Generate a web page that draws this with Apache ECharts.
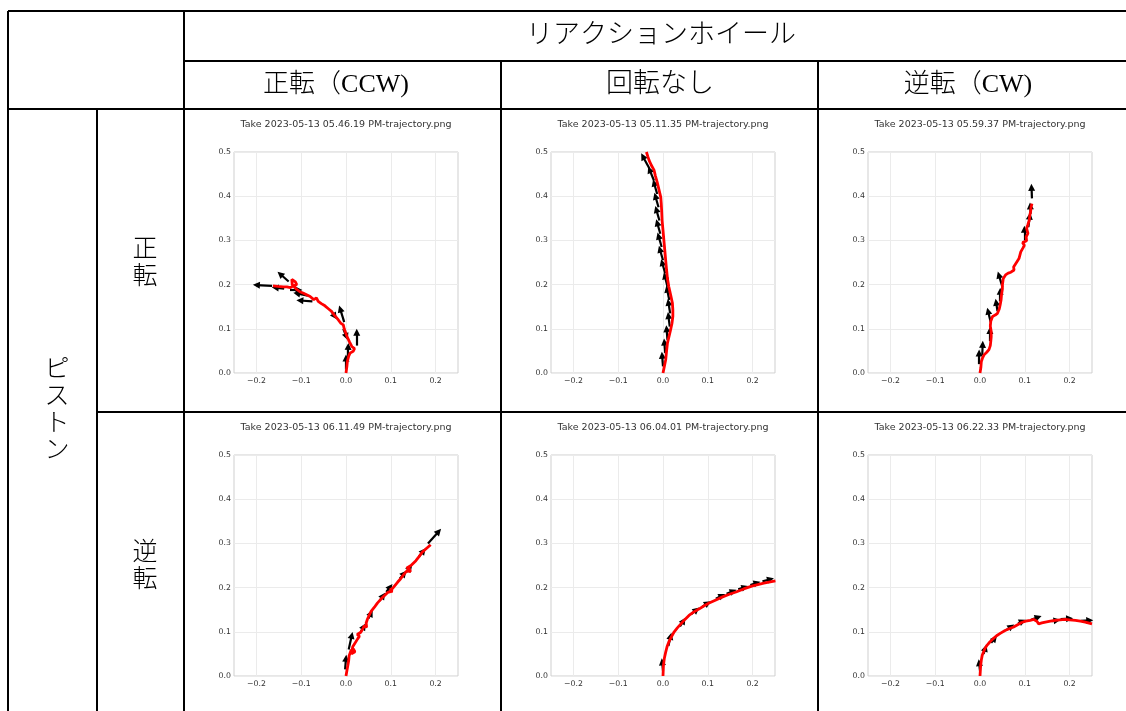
<!DOCTYPE html>
<html><head><meta charset="utf-8">
<script src="https://cdn.jsdelivr.net/npm/echarts@6/dist/echarts.min.js"></script>
<style>html,body{margin:0;padding:0;background:#fff}#c{width:1126px;height:711px}</style>
</head><body><div id="c"></div>
<script>
// ---- table texts ----
const headerTop = 'リアクションホイール';
const colHeaders = ['正転（CCW)', '回転なし', '逆転（CW)'];
const rowGroup = 'ピストン';
const rowHeaders = ['正転', '逆転'];
const plotTitles = [
  'Take 2023-05-13 05.46.19 PM-trajectory.png',
  'Take 2023-05-13 05.11.35 PM-trajectory.png',
  'Take 2023-05-13 05.59.37 PM-trajectory.png',
  'Take 2023-05-13 06.11.49 PM-trajectory.png',
  'Take 2023-05-13 06.04.01 PM-trajectory.png',
  'Take 2023-05-13 06.22.33 PM-trajectory.png'
];
const xTicks = [-0.2, -0.1, 0.0, 0.1, 0.2];
const yTicks = [0.0, 0.1, 0.2, 0.3, 0.4, 0.5];

// ---- trajectories [x, y] ----
const traj1 = [[0,0],[0.002,0.015],[0.003,0.026],[0.006,0.038],[0.009,0.045],[0.016,0.049],[0.019,0.055],[0.013,0.06],[0.008,0.07],[0.002,0.083],[-0.004,0.1],[-0.006,0.109],[-0.012,0.113],[-0.017,0.12],[-0.025,0.13],[-0.032,0.139],[-0.04,0.146],[-0.047,0.152],[-0.055,0.157],[-0.062,0.162],[-0.066,0.17],[-0.072,0.166],[-0.069,0.169],[-0.08,0.173],[-0.088,0.177],[-0.096,0.181],[-0.103,0.184],[-0.11,0.189],[-0.114,0.192],[-0.12,0.2],[-0.121,0.212],[-0.113,0.206],[-0.11,0.2],[-0.118,0.197],[-0.124,0.193],[-0.132,0.195],[-0.14,0.195],[-0.152,0.196],[-0.163,0.197]];
const traj2 = [[0,0],[0.003,0.015],[0.006,0.03],[0.008,0.05],[0.01,0.068],[0.014,0.085],[0.017,0.098],[0.02,0.112],[0.022,0.128],[0.022,0.143],[0.021,0.158],[0.017,0.177],[0.013,0.195],[0.01,0.213],[0.008,0.233],[0.006,0.255],[0.004,0.278],[0.002,0.3],[0,0.323],[-0.002,0.345],[-0.003,0.368],[-0.004,0.385],[-0.005,0.398],[-0.009,0.415],[-0.013,0.432],[-0.017,0.446],[-0.02,0.459],[-0.026,0.47],[-0.031,0.481],[-0.034,0.49],[-0.037,0.5]];
const traj3 = [[0,0],[0.002,0.013],[0.003,0.026],[0.006,0.035],[0.009,0.041],[0.015,0.047],[0.02,0.053],[0.023,0.062],[0.024,0.071],[0.025,0.082],[0.025,0.094],[0.023,0.106],[0.024,0.117],[0.028,0.128],[0.034,0.131],[0.039,0.135],[0.043,0.145],[0.045,0.154],[0.047,0.165],[0.048,0.177],[0.05,0.19],[0.05,0.199],[0.052,0.214],[0.057,0.222],[0.063,0.226],[0.069,0.228],[0.076,0.233],[0.075,0.24],[0.08,0.248],[0.083,0.244],[0.087,0.259],[0.09,0.262],[0.091,0.274],[0.095,0.271],[0.096,0.283],[0.099,0.289],[0.095,0.295],[0.104,0.299],[0.106,0.301],[0.103,0.308],[0.107,0.316],[0.104,0.327],[0.107,0.336],[0.11,0.346],[0.111,0.356],[0.113,0.365],[0.114,0.375],[0.116,0.383]];
const traj4 = [[0,0],[0.002,0.012],[0.004,0.023],[0.006,0.035],[0.007,0.046],[0.011,0.057],[0.016,0.062],[0.02,0.055],[0.012,0.05],[0.015,0.066],[0.019,0.069],[0.026,0.084],[0.03,0.09],[0.025,0.094],[0.033,0.099],[0.037,0.106],[0.041,0.114],[0.046,0.11],[0.05,0.112],[0.045,0.12],[0.048,0.129],[0.052,0.138],[0.056,0.146],[0.063,0.155],[0.07,0.165],[0.078,0.174],[0.086,0.182],[0.093,0.189],[0.104,0.192],[0.098,0.195],[0.104,0.198],[0.115,0.212],[0.122,0.22],[0.13,0.231],[0.136,0.238],[0.144,0.236],[0.141,0.244],[0.135,0.244],[0.145,0.25],[0.156,0.261],[0.163,0.27],[0.17,0.28],[0.18,0.289],[0.189,0.297]];
const traj5 = [[0,0],[0.001,0.024],[0.003,0.04],[0.006,0.054],[0.009,0.066],[0.013,0.077],[0.019,0.089],[0.025,0.1],[0.032,0.109],[0.04,0.118],[0.049,0.128],[0.058,0.137],[0.069,0.145],[0.081,0.152],[0.092,0.159],[0.103,0.165],[0.118,0.172],[0.133,0.179],[0.148,0.185],[0.163,0.19],[0.18,0.197],[0.2,0.204],[0.225,0.21],[0.251,0.215]];
const traj6 = [[0,0],[0.0015,0.024],[0.003,0.036],[0.005,0.047],[0.008,0.055],[0.011,0.062],[0.016,0.07],[0.022,0.077],[0.029,0.084],[0.037,0.091],[0.046,0.097],[0.056,0.103],[0.065,0.107],[0.075,0.111],[0.084,0.116],[0.093,0.121],[0.102,0.124],[0.112,0.126],[0.12,0.128],[0.123,0.13],[0.127,0.124],[0.131,0.118],[0.138,0.12],[0.146,0.122],[0.157,0.124],[0.168,0.126],[0.179,0.127],[0.19,0.128],[0.2,0.127],[0.213,0.126],[0.224,0.124],[0.235,0.122],[0.25,0.118]];

// ---- quiver arrows [x0, y0, x1, y1] ----
const arrows1 = [[0.0,0.008,0.0,0.034],[0.004,0.035,0.005,0.06],[0.024,0.062,0.024,0.092],[-0.004,0.115,-0.013,0.145],[-0.006,0.1,0.001,0.082],[-0.034,0.142,-0.025,0.128],[-0.075,0.162,-0.103,0.164],[-0.085,0.175,-0.11,0.18],[-0.128,0.207,-0.147,0.224],[-0.165,0.197,-0.2,0.199],[-0.138,0.191,-0.158,0.193],[-0.125,0.188,-0.105,0.188]];
const arrows2 = [[0.0,0.015,-0.002,0.04],[0.005,0.045,0.003,0.07],[0.01,0.075,0.008,0.1],[0.015,0.105,0.012,0.13],[0.016,0.135,0.012,0.16],[0.014,0.165,0.009,0.19],[0.01,0.195,0.004,0.22],[0.005,0.225,-0.002,0.25],[0.0,0.255,-0.007,0.28],[-0.003,0.285,-0.01,0.31],[-0.006,0.315,-0.013,0.34],[-0.008,0.345,-0.015,0.37],[-0.01,0.375,-0.017,0.4],[-0.013,0.405,-0.02,0.43],[-0.02,0.435,-0.03,0.46],[-0.03,0.462,-0.045,0.49]];
const arrows3 = [[-0.002,0.02,-0.002,0.045],[0.005,0.04,0.006,0.065],[0.022,0.072,0.022,0.096],[0.024,0.115,0.018,0.14],[0.039,0.14,0.036,0.16],[0.045,0.162,0.045,0.185],[0.05,0.195,0.042,0.222],[0.099,0.3,0.099,0.325],[0.108,0.33,0.111,0.355],[0.113,0.36,0.112,0.378],[0.116,0.395,0.115,0.42]];
const arrows4 = [[-0.002,0.015,0.0,0.04],[0.006,0.06,0.013,0.092],[0.033,0.1,0.04,0.112],[0.05,0.13,0.056,0.142],[0.075,0.17,0.083,0.182],[0.09,0.19,0.099,0.202],[0.12,0.22,0.13,0.232],[0.135,0.235,0.143,0.245],[0.163,0.27,0.173,0.283],[0.183,0.3,0.207,0.327]];
const arrows5 = [[0.0,0.012,-0.002,0.032],[0.012,0.068,0.017,0.09],[0.038,0.112,0.046,0.125],[0.063,0.14,0.075,0.15],[0.088,0.157,0.1,0.165],[0.118,0.175,0.132,0.182],[0.142,0.186,0.157,0.192],[0.168,0.196,0.183,0.201],[0.195,0.206,0.21,0.211],[0.222,0.214,0.24,0.219]];
const arrows6 = [[0.0,0.012,-0.002,0.03],[0.008,0.05,0.012,0.063],[0.025,0.075,0.033,0.085],[0.06,0.105,0.07,0.112],[0.085,0.119,0.095,0.124],[0.115,0.128,0.13,0.133],[0.16,0.124,0.172,0.126],[0.18,0.129,0.2,0.13],[0.225,0.125,0.245,0.126]];

const trajs = [traj1, traj2, traj3, traj4, traj5, traj6];
const arrowSets = [arrows1, arrows2, arrows3, arrows4, arrows5, arrows6];

// ---- layout ----
const colLeft = [234, 551, 868];
const rowTop = [152, 455];
const plotW = 224, plotH = 221;
const fmt = v => (v < 0 ? '\u2212' : '') + Math.abs(v).toFixed(1);

const grids = [], xAxes = [], yAxes = [], series = [], graphics = [];
for (let i = 0; i < 6; i++) {
  const r = Math.floor(i / 3), c = i % 3;
  grids.push({left: colLeft[c], top: rowTop[r], width: plotW, height: plotH, show: true, borderColor: '#cfcfcf', borderWidth: 1, backgroundColor: '#fff'});
  xAxes.push({gridIndex: i, type: 'value', min: -0.25, max: 0.25,
    axisLine: {show: false}, axisTick: {show: false, customValues: xTicks},
    axisLabel: {customValues: xTicks, formatter: fmt, fontSize: 7.8, color: '#333', margin: 4, fontFamily: 'DejaVu Sans'},
    splitLine: {show: true, lineStyle: {color: '#ebebeb', width: 1}}});
  yAxes.push({gridIndex: i, type: 'value', min: 0, max: 0.5, interval: 0.1,
    axisLine: {show: false}, axisTick: {show: false},
    axisLabel: {formatter: fmt, fontSize: 7.8, color: '#333', margin: 3, fontFamily: 'DejaVu Sans'},
    splitLine: {show: true, lineStyle: {color: '#ebebeb', width: 1}}});
  series.push({type: 'lines', coordinateSystem: 'cartesian2d', xAxisIndex: i, yAxisIndex: i,
    symbol: ['none', 'triangle'], symbolSize: 7, silent: true, z: 2,
    lineStyle: {color: '#000', width: 2.2, opacity: 1, curveness: 0},
    data: arrowSets[i].map(a => ({coords: [[a[0], a[1]], [a[2], a[3]]]}))});
  series.push({type: 'line', xAxisIndex: i, yAxisIndex: i, data: trajs[i], showSymbol: false, symbol: 'none',
    silent: true, z: 3, clip: true, lineStyle: {color: '#ff0000', width: 2.8}});
  graphics.push({type: 'text', x: colLeft[c] + plotW / 2, y: rowTop[r] - 27, silent: true,
    style: {text: plotTitles[i], fontSize: 9.5, fill: '#333', fontFamily: 'DejaVu Sans', textAlign: 'center', textVerticalAlign: 'middle'}});
}

// table lines
const L = (x1, y1, x2, y2) => graphics.push({type: 'line', silent: true, z: 100, shape: {x1, y1, x2, y2}, style: {stroke: '#000', lineWidth: 2}});
L(8, 11, 1136, 11);
L(184, 61, 1136, 61);
L(8, 109, 1136, 109);
L(97, 412, 1136, 412);
L(8, 11, 8, 713);
L(97, 109, 97, 713);
L(184, 11, 184, 713);
L(501, 61, 501, 713);
L(818, 61, 818, 713);

const jpFont = '"Liberation Serif", "Noto Sans CJK JP", serif';
const T = (x, y, text, size, extra) => graphics.push(Object.assign({type: 'text', x, y, silent: true, z: 100,
  style: {text, fontSize: size, fill: '#000', fontFamily: jpFont, fontWeight: 300, textAlign: 'center', textVerticalAlign: 'middle', lineHeight: 27}}, extra || {}));
T(661, 36, headerTop, 27);
T(336, 85, colHeaders[0], 26);
T(660, 85, colHeaders[1], 27);
T(968, 85, colHeaders[2], 26);
T(145, 264, rowHeaders[0].split('').join('\n'), 25);
T(145, 567, rowHeaders[1].split('').join('\n'), 25);
T(57, 411, rowGroup.split('').join('\n'), 25);

const chart = echarts.init(document.getElementById('c'));
chart.setOption({animation: false, backgroundColor: '#fff', grid: grids, xAxis: xAxes, yAxis: yAxes, series, graphic: graphics});
</script></body></html>
